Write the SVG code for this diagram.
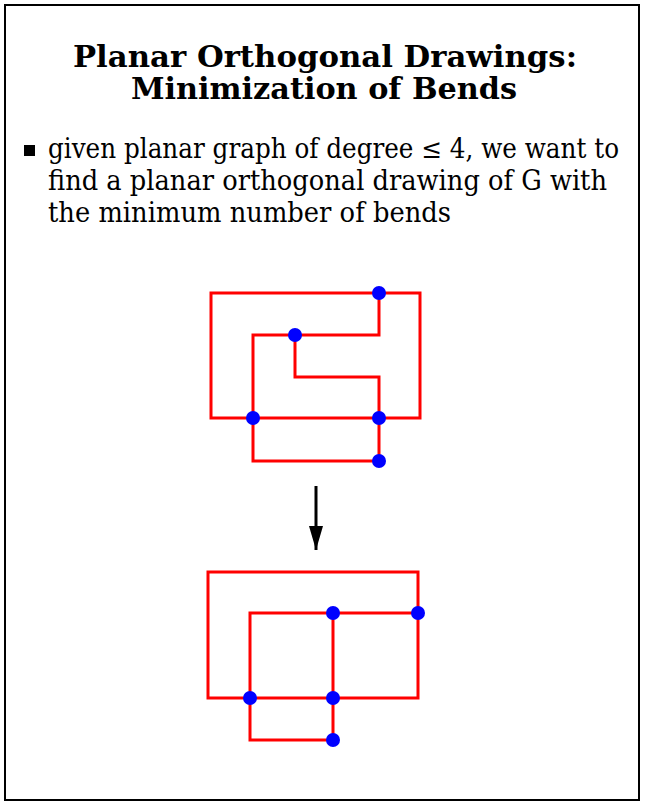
<svg xmlns="http://www.w3.org/2000/svg" width="650" height="810" viewBox="0 0 650 810">
<style>
.t{font-family:"DejaVu Serif","Liberation Serif",serif;font-weight:bold;font-size:30px;text-anchor:middle;fill:#000}
.b{font-family:"DejaVu Serif","Liberation Serif",serif;font-size:27px;fill:#000}
.e{fill:none;stroke:#ff0000;stroke-width:3;stroke-linejoin:miter;stroke-linecap:square}
.n{fill:#0000ff}
</style>
<defs>
<marker id="ah" markerWidth="24" markerHeight="14" refX="24" refY="7" orient="auto" markerUnits="userSpaceOnUse" viewBox="0 0 24 14">
<path d="M0,0 L24,7 L0,14 Z" fill="#000"/>
</marker>
</defs>
<rect x="5" y="5" width="634" height="795" fill="#fff" stroke="#000" stroke-width="2"/>
<g id="title">
<text class="t" x="325" y="67" textLength="504" lengthAdjust="spacingAndGlyphs">Planar Orthogonal Drawings:</text>
<text class="t" x="324" y="99" textLength="386" lengthAdjust="spacingAndGlyphs">Minimization of Bends</text>
</g>
<g id="bullet">
<rect x="24" y="145" width="11" height="11" fill="#000"/>
<text class="b" x="48" y="158" textLength="571" lengthAdjust="spacingAndGlyphs">given planar graph of degree ≤ 4, we want to</text>
<text class="b" x="48" y="190" textLength="559" lengthAdjust="spacingAndGlyphs">find a planar orthogonal drawing of G with</text>
<text class="b" x="48" y="222" textLength="403" lengthAdjust="spacingAndGlyphs">the minimum number of bends</text>
</g>
<g id="connectors">
<path class="e" d="M379,293 L211,293 L211,418 L420,418 L420,293 Z"/>
<path class="e" d="M379,293 L379,335 L253,335 L253,461 L379,461"/>
<path class="e" d="M295,335 L295,377 L379,377 L379,461"/>
<path class="e" d="M208,572 L208,698 L418,698 L418,572 Z"/>
<path class="e" d="M418,613 L250,613 L250,740 L333,740 L333,613"/>
<line x1="316" y1="486" x2="316" y2="550" stroke="#000" stroke-width="3" marker-end="url(#ah)"/>
</g>
<g id="top-nodes">
<circle id="a1" class="n" cx="379" cy="293" r="7"/>
<circle id="a2" class="n" cx="295" cy="335" r="7"/>
<circle id="a3" class="n" cx="253" cy="418" r="7"/>
<circle id="a4" class="n" cx="379" cy="418" r="7"/>
<circle id="a5" class="n" cx="379" cy="461" r="7"/>
</g>
<g id="bottom-nodes">
<circle id="b1" class="n" cx="418" cy="613" r="7"/>
<circle id="b2" class="n" cx="333" cy="613" r="7"/>
<circle id="b3" class="n" cx="250" cy="698" r="7"/>
<circle id="b4" class="n" cx="333" cy="698" r="7"/>
<circle id="b5" class="n" cx="333" cy="740" r="7"/>
</g>
</svg>
